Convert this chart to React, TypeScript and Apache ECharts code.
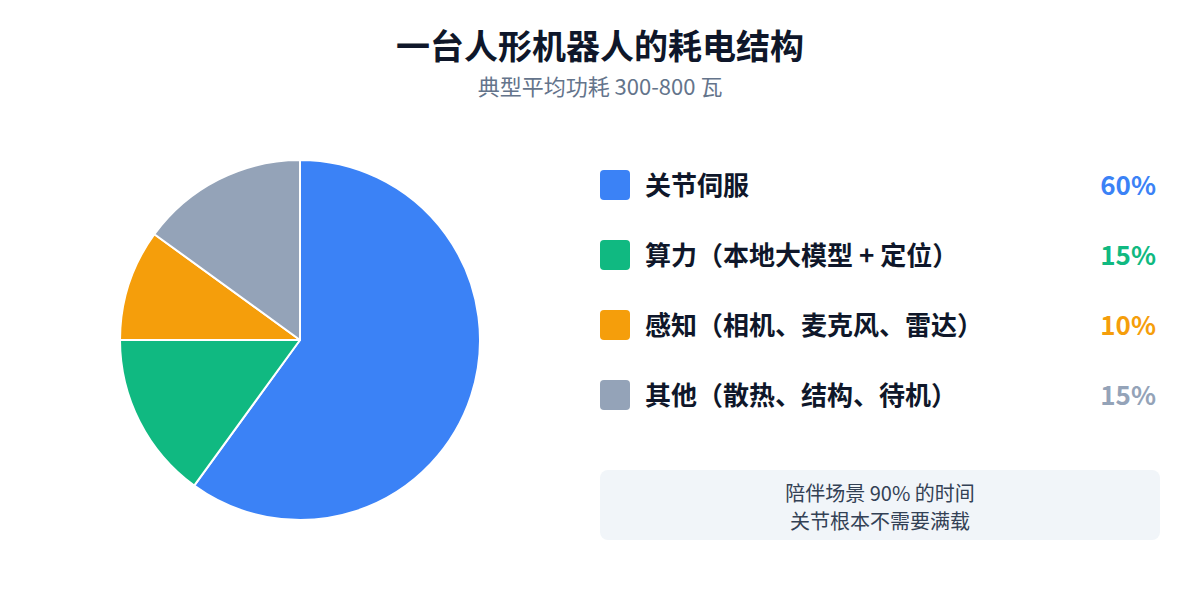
import { useEffect, useRef } from "react";
import * as echarts from "echarts";

const names = ["关节伺服", "算力（本地大模型 + 定位）", "感知（相机、麦克风、雷达）", "其他（散热、结构、待机）"];
const values = [60, 15, 10, 15];
const colors = ["#3b82f6", "#10b981", "#f59e0b", "#94a3b8"];
const noteLines = ["陪伴场景 90% 的时间", "关节根本不需要满载"];

const FONT = "'Noto Sans CJK SC', 'Noto Sans', sans-serif";

export default function App() {
  const chartRef = useRef<HTMLDivElement>(null);

  useEffect(() => {
    document.body.style.margin = "0";
    if (!chartRef.current) return;
    const chart = echarts.init(chartRef.current, null, { renderer: "svg" });

    const legendItems: any[] = [];
    names.forEach((name, i) => {
      const y = 185 + i * 70;
      legendItems.push({
        type: "rect",
        shape: { x: 600, y: y - 15, width: 30, height: 30, r: 4 },
        style: { fill: colors[i] },
      });
      legendItems.push({
        type: "text",
        x: 645,
        y: y - 2,
        style: {
          text: name,
          fill: "#0f172a",
          font: `bold 26px ${FONT}`,
          verticalAlign: "middle",
        },
      });
      legendItems.push({
        type: "text",
        x: 1156,
        y: y - 2,
        style: {
          text: values[i] + "%",
          fill: colors[i],
          font: `bold 26px ${FONT}`,
          align: "right",
          verticalAlign: "middle",
        },
      });
    });

    const option = {
      animation: false,
      backgroundColor: "#ffffff",
      title: {
        text: "一台人形机器人的耗电结构",
        subtext: "典型平均功耗 300-800 瓦",
        left: "center",
        top: 22,
        itemGap: 13,
        textStyle: { fontFamily: FONT, fontSize: 34, fontWeight: "bold", color: "#0f172a" },
        subtextStyle: { fontFamily: FONT, fontSize: 22, color: "#64748b" },
      },
      series: [
        {
          type: "pie",
          center: [300, 340],
          radius: 180,
          startAngle: 90,
          clockwise: true,
          label: { show: false },
          labelLine: { show: false },
          itemStyle: { borderColor: "#ffffff", borderWidth: 2 },
          emphasis: { disabled: true },
          data: names.map((n, i) => ({ name: n, value: values[i], itemStyle: { color: colors[i] } })),
        },
      ],
      graphic: [
        ...legendItems,
        {
          type: "rect",
          shape: { x: 600, y: 470, width: 560, height: 70, r: 8 },
          style: { fill: "#f1f5f9" },
        },
        ...noteLines.map((t, i) => ({
          type: "text",
          x: 880,
          y: 492 + i * 28,
          style: {
            text: t,
            fill: "#334155",
            font: `20px ${FONT}`,
            align: "center",
            verticalAlign: "middle",
          },
        })),
      ],
    };

    chart.setOption(option);
    return () => {
      chart.dispose();
    };
  }, []);

  return <div ref={chartRef} style={{ width: 1200, height: 600 }}></div>;
}
